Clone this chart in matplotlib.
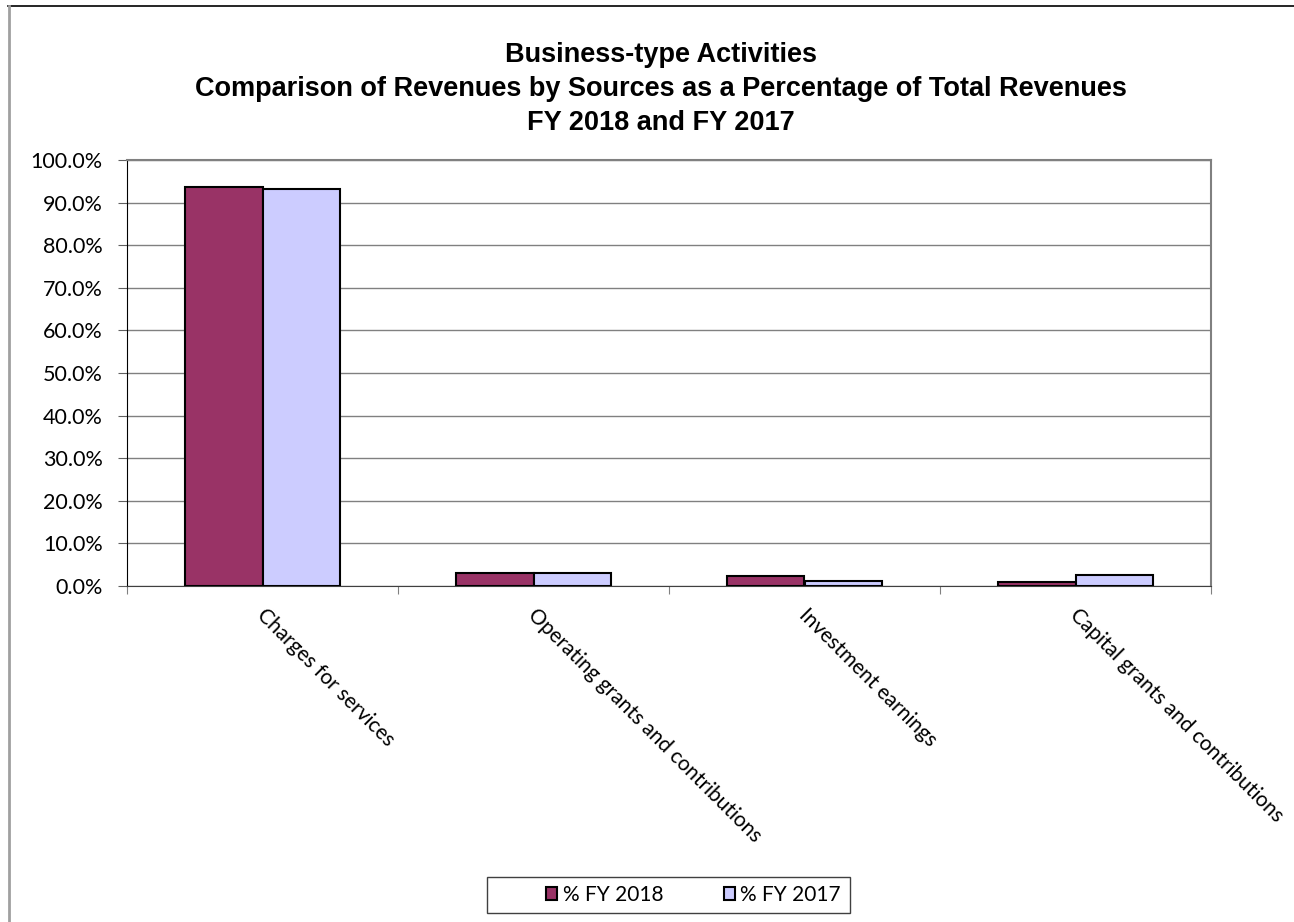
import matplotlib
matplotlib.use("Agg")
import matplotlib.pyplot as plt
from matplotlib.lines import Line2D
from matplotlib.patches import Rectangle
import numpy as np

categories = ["Charges for services", "Operating grants and contributions",
              "Investment earnings", "Capital grants and contributions"]
fy2018 = [93.7, 3.0, 2.3, 1.0]
fy2017 = [93.2, 3.0, 1.2, 2.6]
series_names = ["% FY 2018", "% FY 2017"]
yticks = np.arange(0, 101, 10)
title_lines = ["Business-type Activities",
               "Comparison of Revenues by Sources as a Percentage of Total Revenues",
               "FY 2018 and FY 2017"]

W, H = 1294, 922
fig = plt.figure(figsize=(W / 100, H / 100), dpi=100)
fig.patch.set_facecolor("white")

# plot area in pixel terms
left, right, top, bottom = 127, 1211, 160, 586
ax = fig.add_axes([left / W, 1 - bottom / H, (right - left) / W, (bottom - top) / H])

tick_font = "Lato"
x = np.arange(len(categories))
bw = 0.287
ax.bar(x - bw / 2, fy2018, bw, color="#993366", edgecolor="black", linewidth=1.5,
       label=series_names[0], zorder=3)
ax.bar(x + bw / 2, fy2017, bw, color="#CCCCFF", edgecolor="black", linewidth=1.5,
       label=series_names[1], zorder=3)

ax.set_xlim(-0.5, len(categories) - 0.5)
ax.set_ylim(0, 100)
ax.set_yticks(yticks)
ax.set_yticklabels([f"{v:.1f}%" for v in yticks], fontsize=15.5, family=tick_font)
ax.yaxis.grid(True, color="#808080", linewidth=1)
ax.set_axisbelow(True)

# category boundary ticks, labels placed separately
ax.set_xticks(np.arange(-0.5, len(categories), 1))
ax.set_xticklabels([])
ax.tick_params(axis="x", direction="out", length=6, color="#808080")
ax.tick_params(axis="y", direction="out", length=6.5, color="#606060", pad=11)

for xi, name in zip(x, categories):
    ax.text(xi - 0.01, -6, name, rotation=-45, rotation_mode="anchor",
            ha="left", va="center", fontsize=15, family=tick_font,
            transform=ax.transData, clip_on=False)

for s in ["top", "right"]:
    ax.spines[s].set_color("#808080")
    ax.spines[s].set_linewidth(1.5)
ax.spines["left"].set_color("black")
ax.spines["bottom"].set_color("#404040")

for i, line in enumerate(title_lines):
    fig.text(661 / W, 1 - (62 + 34 * i) / H, line, ha="center", va="baseline",
             fontsize=19.5, fontweight="bold", family="Liberation Sans")

# legend: entries sit toward the right of their box
leg = fig.legend(loc="center left", bbox_to_anchor=(546 / W, 1 - 895 / H), ncol=2,
                 prop={"family": tick_font, "size": 15}, frameon=False,
                 handlelength=0.55, handleheight=0.55, handletextpad=0.25,
                 columnspacing=2.9, borderpad=0, borderaxespad=0)
for h in leg.legend_handles:
    h.set_linewidth(1.5)
fig.add_artist(Rectangle((487 / W, 1 - 913 / H), (850 - 487) / W, 36 / H,
                         transform=fig.transFigure, fill=False,
                         edgecolor="#404040", linewidth=1))

# outer chart border
fig.add_artist(Line2D([8 / W, 1], [1 - 6 / H, 1 - 6 / H], color="black", linewidth=1.2,
                      transform=fig.transFigure))
fig.add_artist(Line2D([8.5 / W, 8.5 / W], [0, 1 - 6 / H], color="#a0a0a0", linewidth=2,
                      transform=fig.transFigure))

fig.savefig("out.png", dpi=100)
